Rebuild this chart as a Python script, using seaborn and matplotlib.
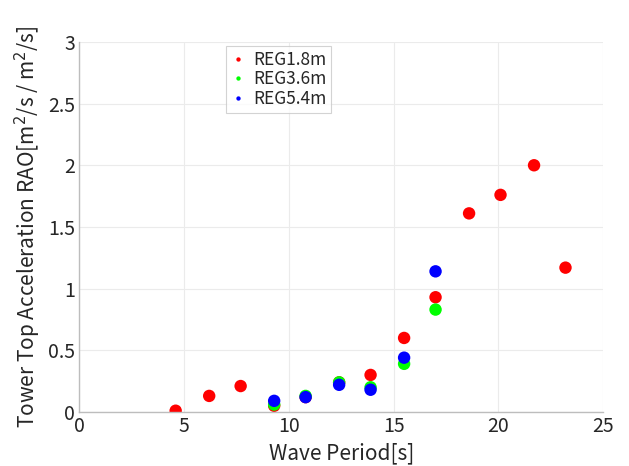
import matplotlib
matplotlib.use("Agg")
import matplotlib.pyplot as plt
import pandas as pd
import seaborn as sns

period_18 = [4.6, 6.2, 7.7, 9.3, 10.8, 12.4, 13.9, 15.5, 17.0, 18.6, 20.1, 21.7, 23.2]
rao_18 = [0.01, 0.13, 0.21, 0.05, 0.12, 0.24, 0.30, 0.60, 0.93, 1.61, 1.76, 2.00, 1.17]
period_36 = [9.3, 10.8, 12.4, 13.9, 15.5, 17.0]
rao_36 = [0.06, 0.13, 0.24, 0.20, 0.39, 0.83]
period_54 = [9.3, 10.8, 12.4, 13.9, 15.5, 17.0]
rao_54 = [0.09, 0.12, 0.22, 0.18, 0.44, 1.14]

df = pd.concat([
    pd.DataFrame({"period": period_18, "rao": rao_18, "case": "REG1.8m"}),
    pd.DataFrame({"period": period_36, "rao": rao_36, "case": "REG3.6m"}),
    pd.DataFrame({"period": period_54, "rao": rao_54, "case": "REG5.4m"}),
])

sns.set_style("whitegrid")
plt.rcParams["font.family"] = ["Noto Sans CJK JP", "DejaVu Sans"]

fig = plt.figure(figsize=(6.29, 4.66), dpi=100)
ax = fig.add_axes([0.126, 0.116, 0.833, 0.794])
sns.scatterplot(data=df, x="period", y="rao", hue="case",
                palette=["#ff0000", "#00ff00", "#0000ff"], s=80,
                edgecolor="none", ax=ax)

ax.set_xlim(0, 25)
ax.set_ylim(0, 3)
ax.set_xticks([0, 5, 10, 15, 20, 25])
ax.set_yticks([0, 0.5, 1, 1.5, 2, 2.5, 3])
ax.set_yticklabels(["0", "0.5", "1", "1.5", "2", "2.5", "3"])
ax.tick_params(labelsize=14, colors="#262626", length=0, pad=3)
ax.grid(color="#ebebeb", linewidth=0.8)
for side in ["top", "right"]:
    ax.spines[side].set_visible(False)
for side in ["left", "bottom"]:
    ax.spines[side].set_color("#bdbdbd")
    ax.spines[side].set_linewidth(1)

ax.set_xlabel("Wave Period[s]", fontsize=15, color="#262626")
ax.set_ylabel("Tower Top Acceleration RAO[m$^2$/s / m$^2$/s]", fontsize=15, color="#262626")

leg = ax.legend(loc="upper left", bbox_to_anchor=(0.28, 0.988), fontsize=12.5,
                markerscale=0.35, frameon=True, fancybox=False,
                handlelength=0.9, handletextpad=0.4, labelspacing=0.1,
                borderpad=0.25, borderaxespad=0)
leg.get_frame().set_edgecolor("#c8c8c8")
leg.get_frame().set_linewidth(0.8)

fig.savefig("out.png", dpi=100)
